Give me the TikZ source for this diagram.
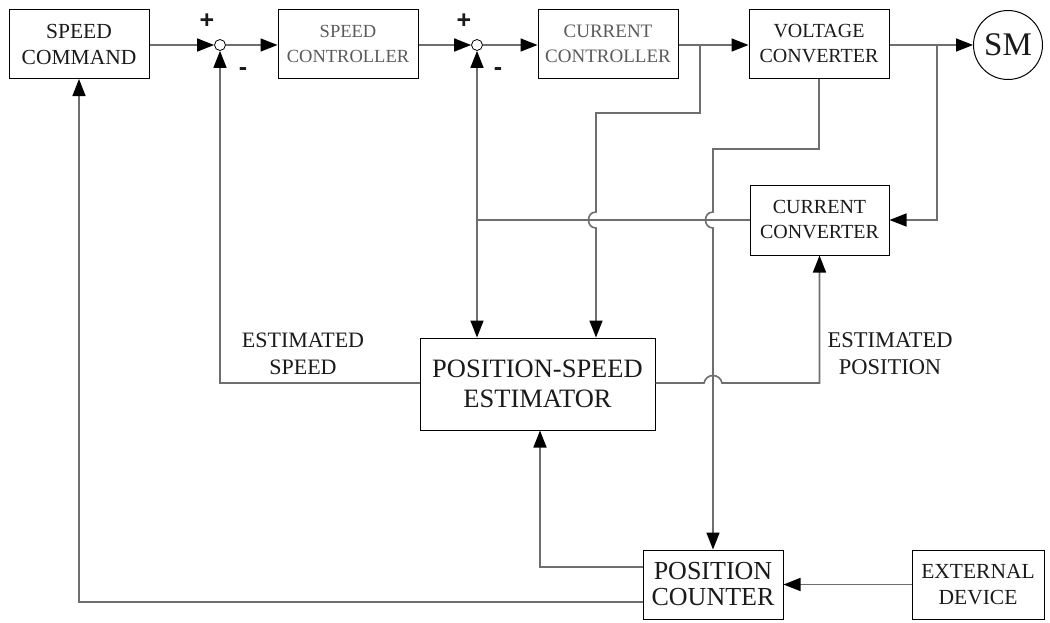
\documentclass[tikz,border=0pt]{standalone}
\usepackage{fontspec}
\setmainfont{Liberation Serif}
\newfontfamily\signfont{Liberation Sans}
\usetikzlibrary{arrows.meta,calc}
\definecolor{wire}{HTML}{6E6E6E}
\definecolor{txt}{HTML}{1A1A1A}
\definecolor{ltxt}{HTML}{5A5A5A}
\tikzset{
  blk/.style={draw=black,line width=1pt,minimum height=69pt,inner sep=0pt,align=center,text=txt},
  sumj/.style={circle,draw=black,line width=0.8pt,minimum size=11pt,inner sep=0pt},
  wireln/.style={draw=wire,line width=1.6pt},
  arr/.style={wireln,-{Triangle[length=17pt,width=13pt,color=black]}},
  lbl/.style={align=center,text=txt,inner sep=0pt},
  sgn/.style={text=txt,inner sep=0pt,font=\signfont\bfseries\fontsize{25}{25}\selectfont},
}
\begin{document}
\begin{tikzpicture}[x=1pt,y=-1pt]
\useasboundingbox (0,0) rectangle (1050,622);
% blocks
\node[blk,minimum width=140pt,font=\fontsize{21.5}{26}\selectfont] (sc) at (79,44) {SPEED\\COMMAND};
\node[sumj] (s1) at (220,45) {};
\node[blk,minimum width=140pt,text=ltxt,font=\fontsize{18.5}{25}\selectfont] (spc) at (348,44) {SPEED\\CONTROLLER};
\node[sumj] (s2) at (477,45) {};
\node[blk,minimum width=140pt,text=ltxt,font=\fontsize{19}{25}\selectfont] (cc) at (608,44) {CURRENT\\CONTROLLER};
\node[blk,minimum width=140pt,font=\fontsize{20}{25}\selectfont] (vc) at (819,44) {VOLTAGE\\CONVERTER};
\node[circle,draw=black,line width=1pt,minimum size=69pt,inner sep=0pt,text=txt,font=\fontsize{33}{33}\selectfont] (sm) at (1008,45) {SM};
\node[blk,minimum width=139pt,minimum height=70pt,font=\fontsize{20}{25}\selectfont] (ccv) at (819.5,220) {CURRENT\\CONVERTER};
\node[blk,minimum width=235pt,minimum height=92pt,font=\fontsize{26.5}{30}\selectfont] (est) at (537.5,384) {POSITION-SPEED\\ESTIMATOR};
\node[blk,minimum width=140pt,font=\fontsize{26}{26}\selectfont] (pc) at (713,584.5) {POSITION\\COUNTER};
\node[blk,minimum width=132pt,font=\fontsize{21.5}{26}\selectfont] (ed) at (978,584.5) {EXTERNAL\\DEVICE};
% signs and labels
\node[sgn] (p1) at (207,21) {+};
\node[sgn] (m1) at (243,72) {-};
\node[sgn] (p2) at (464,21) {+};
\node[sgn] (m2) at (498,72) {-};
\node[lbl,font=\fontsize{22}{27}\selectfont] (lsp) at (303,354) {ESTIMATED\\SPEED};
\node[lbl,font=\fontsize{22.5}{27}\selectfont] (lpo) at (890,354) {ESTIMATED\\POSITION};
% branch points
\coordinate (b1) at (700,45);
\coordinate (b2) at (937,45);
\coordinate (j1) at (477,220);
% forward path
\draw[arr] (sc.east |- s1.west) -- (s1.west);
\draw[arr] (s1.east) -- (spc.west |- s1.east);
\draw[arr] (spc.east |- s2.west) -- (s2.west);
\draw[arr] (s2.east) -- (cc.west |- s2.east);
\draw[arr] (cc.east |- b1) -- (vc.west |- b1);
\draw[arr] (vc.east |- sm.west) -- (sm.west);
% branch from current controller output to estimator
\draw[arr] (b1) -- (700,113) -- (596,113) -- (596,212)
  .. controls (586,212) and (586,228) .. (596,228) -- (596,0 |- est.north);
% branch from motor line to current converter
\draw[arr] (b2) -- (b2 |- ccv.east) -- (ccv.east);
% voltage converter to position counter
\draw[arr] (vc.south) -- (819,149) -- (713,149) -- (713,212)
  .. controls (703,212) and (703,228) .. (713,228) -- (pc.north);
% current converter feedback
\draw[wireln] (ccv.west) -- (j1);
\draw[arr] (j1) -- (s2.south);
\draw[arr] (j1) -- (j1 |- est.north);
% estimated position
\draw[arr] (est.east |- 0,383) -- (704,383)
  .. controls (706,373) and (720,373) .. (722,383) -- (819.5,383) -- (ccv.south);
% estimated speed
\draw[arr] (est.west |- 0,383) -- (220,383) -- (s1.south);
% position counter to estimator
\draw[arr] (pc.west |- 0,567) -- (540,567) -- (540,0 |- est.south);
% position counter to speed command
\draw[arr] (pc.west |- 0,602) -- (79,602) -- (sc.south);
% external device
\draw[arr] (ed.west) -- (pc.east);
\end{tikzpicture}
\end{document}
